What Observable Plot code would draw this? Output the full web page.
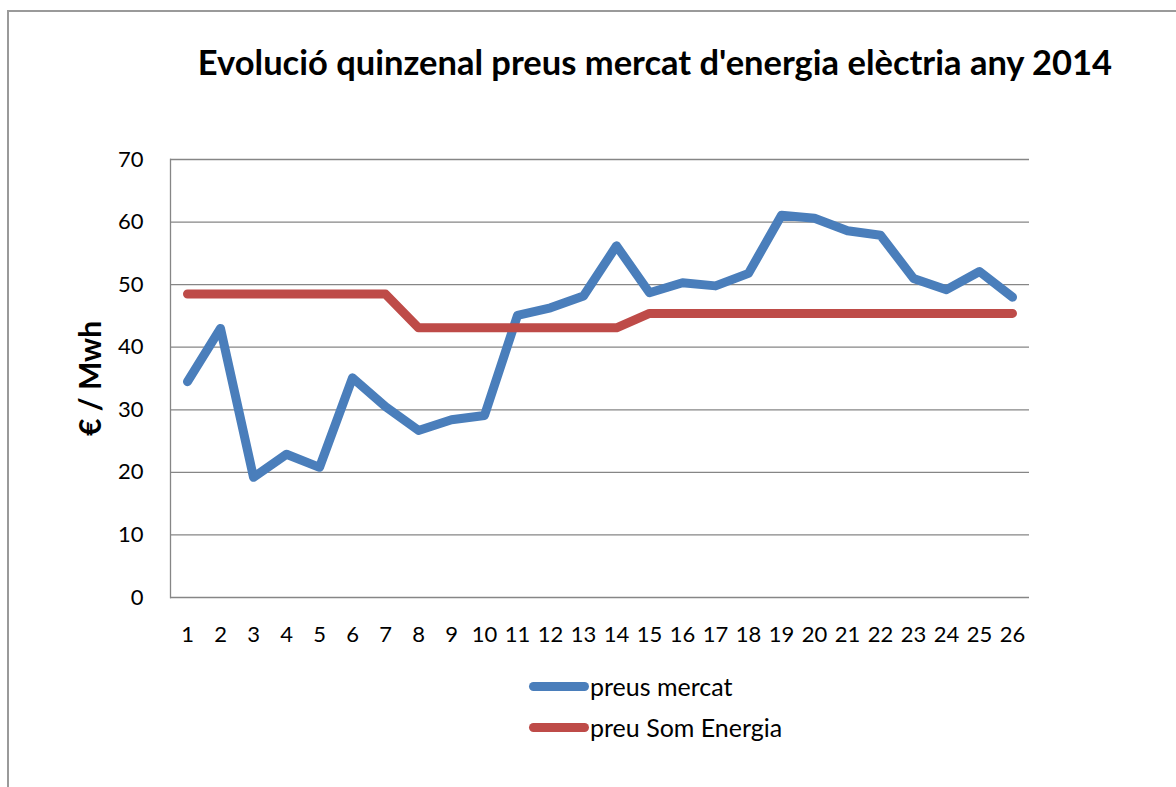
<!DOCTYPE html>
<html>
<head>
<meta charset="utf-8">
<script src="https://cdn.jsdelivr.net/npm/d3@7"></script>
<script src="https://cdn.jsdelivr.net/npm/@observablehq/plot@0.6"></script>
<style>
  html, body { margin: 0; padding: 0; background: #fff; }
  #wrap { position: relative; width: 1176px; height: 787px; overflow: hidden; background: #fff; font-family: Lato, "Open Sans", sans-serif; color: #000; }
  #border { position: absolute; left: 7px; top: 10px; width: 1300px; height: 900px; border-left: 2px solid #9a9a9a; border-top: 2px solid #9a9a9a; }
  #title { position: absolute; left: 100px; width: 1110px; top: 42px; text-align: center; font-weight: bold; font-size: 34.5px; line-height: 40px; white-space: nowrap; }
  #chart { position: absolute; left: 0; top: 130px; }
  .leg { position: absolute; left: 529px; height: 30px; display: flex; align-items: center; font-size: 25px; }
  .sw { width: 60px; height: 9px; border-radius: 5px; margin-right: 1px; }
</style>
</head>
<body>
<div id="wrap">
  <div id="border"></div>
  <div id="title">Evolució quinzenal preus mercat d'energia elèctria any 2014</div>
  <div id="chart"></div>
  <div class="leg" style="top:671px"><div class="sw" style="background:#4A7EBB"></div><span>preus mercat</span></div>
  <div class="leg" style="top:712px"><div class="sw" style="background:#BE4B48"></div><span>preu Som Energia</span></div>
</div>
<script>
const quinzenes = d3.range(1, 27);
const preusMercat = [34.5, 43.0, 19.2, 22.9, 20.8, 35.1, 30.5, 26.7, 28.4, 29.1, 45.1, 46.3, 48.2, 56.2, 48.7, 50.3, 49.8, 51.8, 61.1, 60.6, 58.6, 57.9, 51.0, 49.2, 52.1, 48.0];
const preuSom = [48.5, 48.5, 48.5, 48.5, 48.5, 48.5, 48.5, 43.1, 43.1, 43.1, 43.1, 43.1, 43.1, 43.1, 45.4, 45.4, 45.4, 45.4, 45.4, 45.4, 45.4, 45.4, 45.4, 45.4, 45.4, 45.4];
const yTicks = [0, 10, 20, 30, 40, 50, 60, 70];
const yLabel = "€ / Mwh";

const mercat = quinzenes.map((q, i) => ({q, v: preusMercat[i]}));
const som = quinzenes.map((q, i) => ({q, v: preuSom[i]}));

const chart = Plot.plot({
  width: 1176,
  height: 540,
  marginLeft: 170,
  marginRight: 147,
  marginTop: 29,
  marginBottom: 73,
  style: {fontFamily: "Lato, 'Open Sans', sans-serif", fontSize: "22px", color: "#000", background: "transparent"},
  x: {type: "point", domain: quinzenes, padding: 0.5, label: null},
  y: {domain: [0, 70], label: null},
  marks: [
    Plot.ruleY(yTicks.filter(d => d > 0), {stroke: "#868686", strokeWidth: 1.3}),
    Plot.ruleY([0], {stroke: "#868686", strokeWidth: 1.3}),
    Plot.frame({anchor: "left", stroke: "#868686", strokeWidth: 1.3}),
    Plot.axisY(yTicks, {tickSize: 0, tickPadding: 27, fontSize: 22, label: null}),
    Plot.axisX(quinzenes, {tickSize: 0, tickPadding: 29, fontSize: 22, label: null}),
    Plot.line(mercat, {x: "q", y: "v", stroke: "#4A7EBB", strokeWidth: 9, strokeLinejoin: "round", strokeLinecap: "round"}),
    Plot.line(som, {x: "q", y: "v", stroke: "#BE4B48", strokeWidth: 9, strokeLinejoin: "round", strokeLinecap: "round"}),
    Plot.text([yLabel], {frameAnchor: "left", textAnchor: "middle", dx: -79, rotate: -90, fontWeight: "bold", fontSize: 30, fill: "#000"})
  ]
});
document.getElementById("chart").appendChild(chart);
</script>
</body>
</html>
